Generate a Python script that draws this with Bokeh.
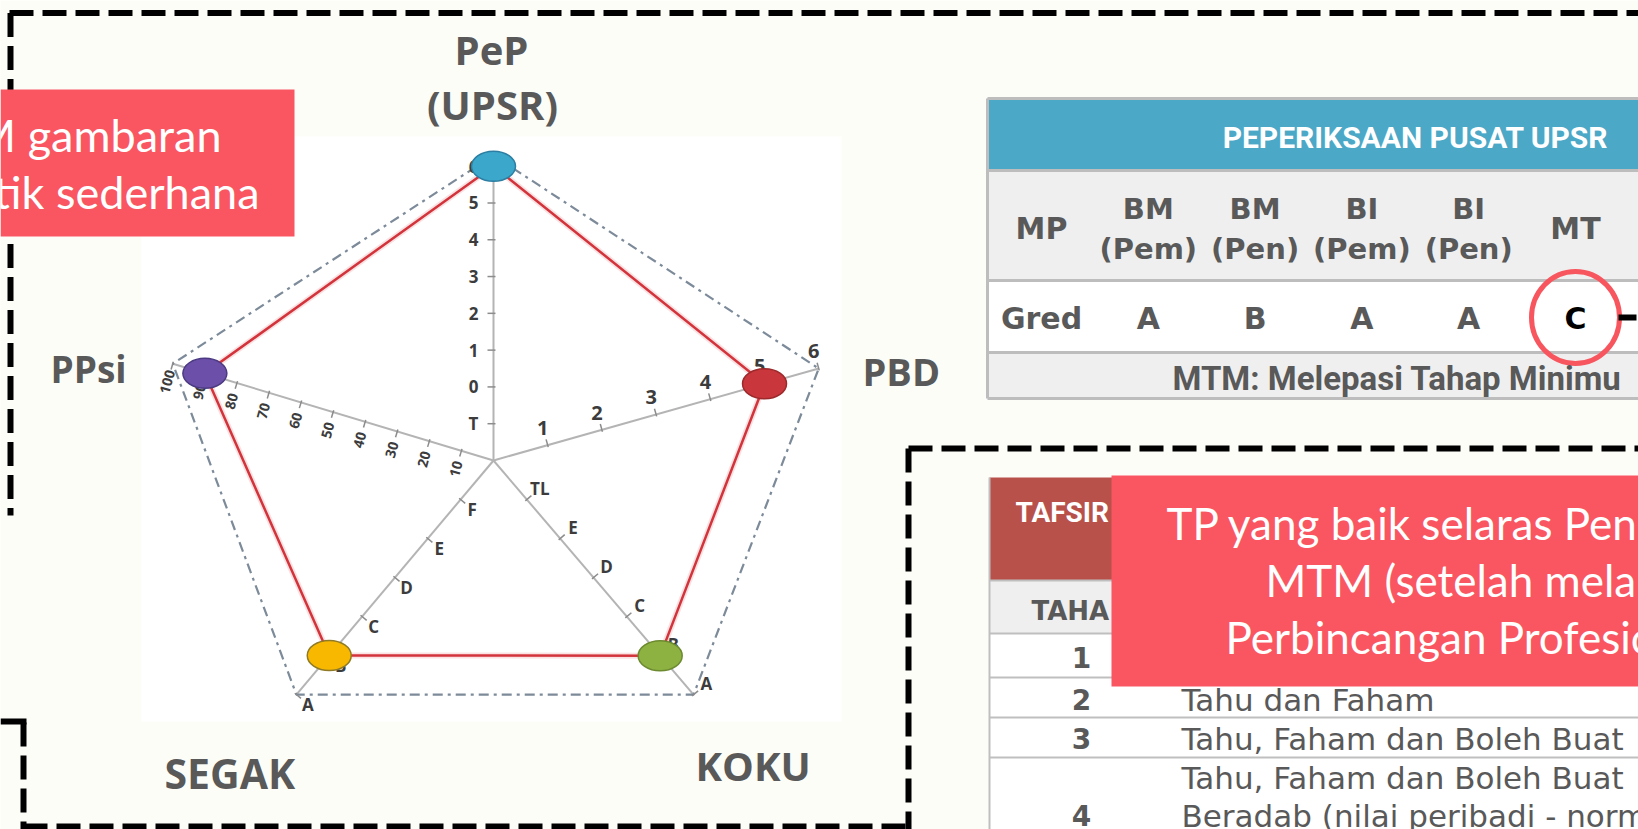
import math
from bokeh.plotting import figure
from bokeh.models import Range1d
from bokeh.embed import file_html
from bokeh.resources import INLINE
from bokeh.core.properties import value

# ---------------- data ----------------
radar_axes = ["PeP\n(UPSR)", "PBD", "KOKU", "SEGAK", "PPsi"]
pep_levels = ["T", "0", "1", "2", "3", "4", "5", "6"]
pbd_levels = ["1", "2", "3", "4", "5", "6"]
koku_levels = ["TL", "E", "D", "C", "B", "A"]
segak_levels = ["F", "E", "D", "C", "B", "A"]
ppsi_levels = ["10", "20", "30", "40", "50", "60", "70", "80", "90", "100"]
radar_levels = [pep_levels, pbd_levels, koku_levels, segak_levels, ppsi_levels]
student_scores = ["6", "5", "B", "B", "90"]
dot_colors = ["#3BA7CB", "#C9363B", "#8DB241", "#F8B800", "#6B4FA8"]
dot_edges = ["#2C7EA2", "#9C2A2C", "#6C8A2F", "#8F7A25", "#4B3A82"]

upsr_title = "PEPERIKSAAN PUSAT UPSR"
upsr_subjects = ["MP", "BM\n(Pem)", "BM\n(Pen)", "BI\n(Pem)", "BI\n(Pen)", "MT"]
upsr_grades = ["Gred", "A", "B", "A", "A", "C"]
upsr_note = "MTM: Melepasi Tahap Minimu"

tp_title = "TAFSIR"
tp_col = "TAHA"
tp_levels = ["1", "2", "3", "4"]
tp_desc = ["", "Tahu dan Faham", "Tahu, Faham dan Boleh Buat",
           "Tahu, Faham dan Boleh Buat\nBeradab (nilai peribadi - norm"]

note_left = ["M gambaran", "tik sederhana"]
note_right = ["TP yang baik selaras Pen", "MTM (setelah mela", "Perbincangan Profesio"]

# ---------------- figure ----------------
BG = "#FDFDF8"
CORAL = "#FA5661"
GRAYTXT = "#595959"
W, H = 1638, 829
p = figure(width=W, height=H, x_range=Range1d(0, W), y_range=Range1d(H, 0),
           output_backend="svg", toolbar_location=None,
           x_axis_type=None, y_axis_type=None, min_border=0,
           outline_line_color=None)
p.background_fill_color = BG
p.border_fill_color = BG


def txt(x, y, s, size, color, font="Open Sans", bold=False, align="center",
        baseline="middle", angle=0.0):
    p.text(x=[x], y=[y], text=[s], text_font=value(font),
           text_font_size=f"{size}px", text_color=color,
           text_font_style="bold" if bold else "normal",
           text_align=align, text_baseline=baseline, angle=angle)


# ---------------- dashed frames ----------------
dash_xs = [[9, 1640], [10, 10], [23, 23], [23, 905], [908, 908], [908, 1640]]
dash_ys = [[12.5, 12.5], [12.5, 515], [722, 830], [826, 826], [448, 830], [448, 448]]
p.multi_line(xs=dash_xs, ys=dash_ys, line_color="black", line_width=6,
             line_dash="24 9")
p.line(x=[0, 26], y=[721, 721], line_color="black", line_width=6)

# ---------------- radar ----------------
p.quad(left=[141], right=[841], top=[136], bottom=[721], fill_color="white",
       line_color=None)

CX, CY = 493, 460
ang = [90, 15.8, -49.5, -130.1, 163.2]
length = [305, 338, 308, 306, 335]
outer_steps = [8.29, 6, 6, 6, 10]
lab_off = [20, 18, 17, 15, 19]
lab_size = [17, 20, 17, 17, 14]
lab_angle = [0, 0, 0, 0, math.radians(75)]


def pt(k, step, off=0.0):
    a = math.radians(ang[k])
    r = length[k] * step / outer_steps[k]
    dx, dy = math.cos(a), -math.sin(a)
    nx, ny = dy, -dx
    return CX + r * dx + off * nx, CY + r * dy + off * ny


# axis lines
p.multi_line(xs=[[CX, pt(k, outer_steps[k])[0]] for k in range(5)],
             ys=[[CY, pt(k, outer_steps[k])[1]] for k in range(5)],
             line_color="#B4B4B4", line_width=2)

# outer dash-dot pentagon
ox = [pt(k, outer_steps[k])[0] for k in range(5)]
oy = [pt(k, outer_steps[k])[1] for k in range(5)]
p.line(x=ox + ox[:1], y=oy + oy[:1], line_color="#7C8A99", line_width=2.2,
       line_dash="10 5 3 5")

# ticks and tick labels
for k, levels in enumerate(radar_levels):
    for i, lab in enumerate(levels):
        step = i + 1
        x0, y0 = pt(k, step, -2)
        x1, y1 = pt(k, step, 6)
        p.line(x=[x0, x1], y=[y0, y1], line_color="#8C8C8C", line_width=1.5)
        lx, ly = pt(k, step, lab_off[k])
        txt(lx, ly, lab, lab_size[k], "#3C3C3C", bold=True, angle=lab_angle[k])

# student polygon
vx, vy = [], []
for k, levels in enumerate(radar_levels):
    x, y = pt(k, levels.index(student_scores[k]) + 1)
    vx.append(x)
    vy.append(y)
p.line(x=vx + vx[:1], y=vy + vy[:1], line_color="#F6C4C6", line_width=6, line_alpha=0.5)
p.line(x=vx + vx[:1], y=vy + vy[:1], line_color="#D3343C", line_width=2.5)
p.ellipse(x=vx, y=vy, width=44, height=30, fill_color=dot_colors,
          line_color=dot_edges, line_width=1.5)

# axis names
pep_lines = radar_axes[0].split("\n")
txt(491, 49, pep_lines[0], 40, GRAYTXT, bold=True)
txt(492, 104, pep_lines[1], 40, GRAYTXT, bold=True)
txt(862, 370, radar_axes[1], 38, GRAYTXT, bold=True, align="left")
txt(695, 765, radar_axes[2], 40, GRAYTXT, bold=True, align="left")
txt(164, 772, radar_axes[3], 41, GRAYTXT, bold=True, align="left")
txt(50, 368, radar_axes[4], 37, GRAYTXT, bold=True, align="left")

# left note
p.quad(left=[0], right=[294], top=[89], bottom=[236], fill_color=CORAL, line_color=None)
txt(221, 134, note_left[0], 45, "white", font="Lato", align="right")
txt(259, 191, note_left[1], 45, "white", font="Lato", align="right")

# ---------------- UPSR table ----------------
T1L, T1R = 987, 1645
p.quad(left=[T1L] * 4, right=[T1R] * 4, top=[98, 170, 280, 352],
       bottom=[170, 280, 352, 398],
       fill_color=["#4BA8C7", "#EFEFEF", "#FFFFFF", "#EFEFEF"], line_color=None)
p.multi_line(xs=[[T1L, T1R]] * 5 + [[T1L, T1L]],
             ys=[[98, 98], [170, 170], [280, 280], [352, 352], [398, 398], [98, 398]],
             line_color="#BDBDBD", line_width=3)
txt(1415, 137, upsr_title, 30, "white", font="Roboto", bold=True)
col_x0, col_w = 1041, 106.8
for i, s in enumerate(upsr_subjects):
    cx = col_x0 + i * col_w
    lines = s.split("\n")
    if len(lines) == 1:
        txt(cx, 228, lines[0], 30, GRAYTXT, font="DejaVu Sans", bold=True)
    else:
        for j, ln in enumerate(lines):
            txt(cx, 208 + 40 * j, ln, 29, GRAYTXT, font="DejaVu Sans", bold=True)
for i, s in enumerate(upsr_grades):
    cx = col_x0 + i * col_w
    txt(cx, 318, s, 30, "black" if i == len(upsr_grades) - 1 else GRAYTXT,
        font="DejaVu Sans", bold=True)
p.ellipse(x=[col_x0 + 5 * col_w], y=[317], width=88, height=92, fill_color=None,
          line_color="#F8565F", line_width=5)
p.line(x=[1618, 1636], y=[317, 317], line_color="black", line_width=6)
txt(1172, 378, upsr_note, 33, GRAYTXT, font="Roboto", bold=True, align="left")

# ---------------- TP table ----------------
T2L, T2R = 989, 1645
p.quad(left=[T2L] * 3, right=[T2R] * 3, top=[477, 580, 633], bottom=[580, 633, 840],
       fill_color=["#B9514B", "#EFEFEF", "#FFFFFF"], line_color=None)
p.multi_line(xs=[[T2L, T2R]] * 5 + [[T2L, T2L]],
             ys=[[580, 580], [633, 633], [677, 677], [717, 717], [757, 757], [477, 840]],
             line_color="#BFBFBF", line_width=2)
txt(1015, 512, tp_title, 28, "white", font="Roboto", bold=True, align="left")
txt(1031, 610, tp_col, 26, GRAYTXT, font="DejaVu Sans", bold=True, align="left")
row_y = [657, 699, 738, 777]
for i, (n, d) in enumerate(zip(tp_levels, tp_desc)):
    lines = d.split("\n")
    ny = row_y[i] if len(lines) == 1 else row_y[i] + 38
    txt(1081, ny, n, 28, GRAYTXT, font="DejaVu Sans", bold=True)
    for j, ln in enumerate(lines):
        if ln:
            txt(1181, row_y[i] + 38 * j, ln, 31, GRAYTXT, font="DejaVu Sans", align="left")

# right note
p.quad(left=[1111], right=[1645], top=[475], bottom=[686], fill_color=CORAL,
       line_color=None)
for s, x, y in zip(note_right, [1166, 1265, 1225], [522, 579, 636]):
    txt(x, y, s, 44, "white", font="Lato", align="left")

open("out.html", "w").write(file_html(p, INLINE))
